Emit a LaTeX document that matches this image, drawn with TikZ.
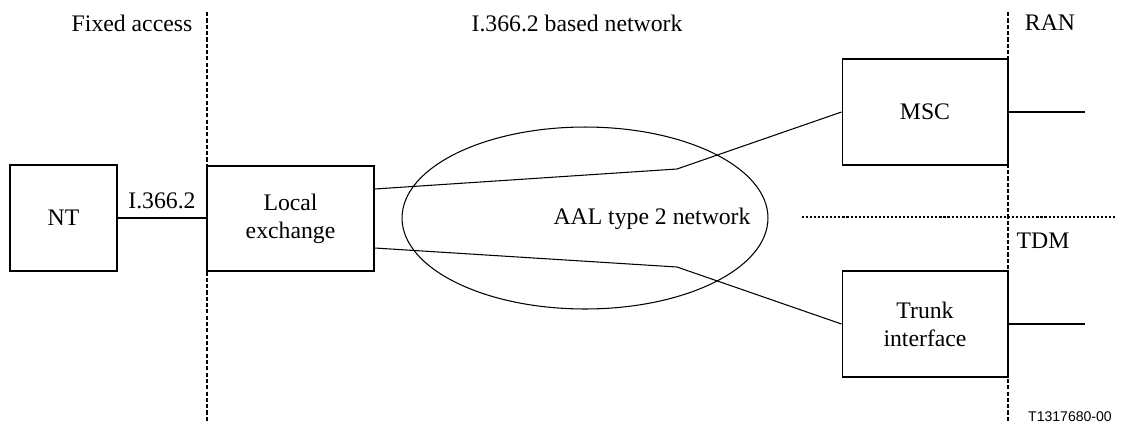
\documentclass[tikz,border=0pt]{standalone}
\usepackage{fontspec}
\setmainfont{Liberation Serif}
\newfontfamily\figfont{Liberation Sans}
\usetikzlibrary{shapes.geometric}

\tikzset{
  unit/.style={draw, line width=0.6pt, inner sep=0pt, align=center},
  boundary/.style={line width=1.2pt, dash pattern=on 2.4pt off 1.2pt},
  layer/.style={line width=1.1pt, dash pattern=on 1.2pt off 1.1pt},
  link/.style={line width=0.6pt},
  stub/.style={line width=1.3pt},
  lbl/.style={inner sep=0pt, align=center}
}

\begin{document}
\begin{tikzpicture}[x=0.02cm, y=-0.02cm, font=\fontsize{13.5}{16}\selectfont]
      \useasboundingbox (0,0) rectangle (1125,430);
      % boxes
      \node[unit, minimum width=2.14cm, minimum height=2.12cm] (nt) at (63.5,218) {NT};
      \node[unit, minimum width=3.34cm, minimum height=2.10cm] (le) at (290.5,218.5) {Local\\exchange};
      \node[unit, minimum width=3.32cm, minimum height=2.12cm] (msc) at (925,112) {MSC};
      \node[unit, minimum width=3.32cm, minimum height=2.12cm] (trunk) at (925,324) {Trunk\\interface};
      \node[draw, ellipse, line width=0.6pt, inner sep=0pt, minimum width=7.32cm, minimum height=3.64cm] (aal) at (585,218) {};
      \node[lbl] (aaltxt) at (652,219) {AAL type 2 network};
      % boundaries
      \coordinate (fixtop) at (207,12);
      \coordinate (fixbot) at (207,422);
      \coordinate (rantop) at (1008,12);
      \coordinate (ranbot) at (1008,422);
      \coordinate (tdml) at (802,217);
      \coordinate (tdmr) at (1115,217);
      \draw[boundary] (fixtop) -- (fixbot);
      \draw[boundary] (rantop) -- (ranbot);
      \draw[layer] (tdml) -- (tdmr);
      % connections
      \coordinate (bendup) at (677,169);
      \coordinate (benddown) at (677,267);
      \coordinate (ranend) at (1085,112);
      \coordinate (tdmend) at (1085,324);
      \draw[stub] (nt.east) -- (nt.east -| le.west);
      \draw[link] ([yshift=0.59cm]le.east) -- (bendup) -- (msc.west);
      \draw[link] ([yshift=-0.59cm]le.east) -- (benddown) -- (trunk.west);
      \draw[stub] (msc.east) -- (ranend);
      \draw[stub] (trunk.east) -- (tdmend);
      % labels
      \node[lbl] (fixed) at (132,23) {Fixed access};
      \node[lbl] (based) at (577,23) {I.366.2 based network};
      \node[lbl] (ran) at (1050,23) {RAN};
      \node[lbl] (tdm) at (1043,241) {TDM};
      \node[lbl] (iface) at (162,201) {I.366.2};
      \node[lbl, font=\figfont\fontsize{8}{9}\selectfont] (ref) at (1070,417) {T1317680-00};
    \end{tikzpicture}
\end{document}
